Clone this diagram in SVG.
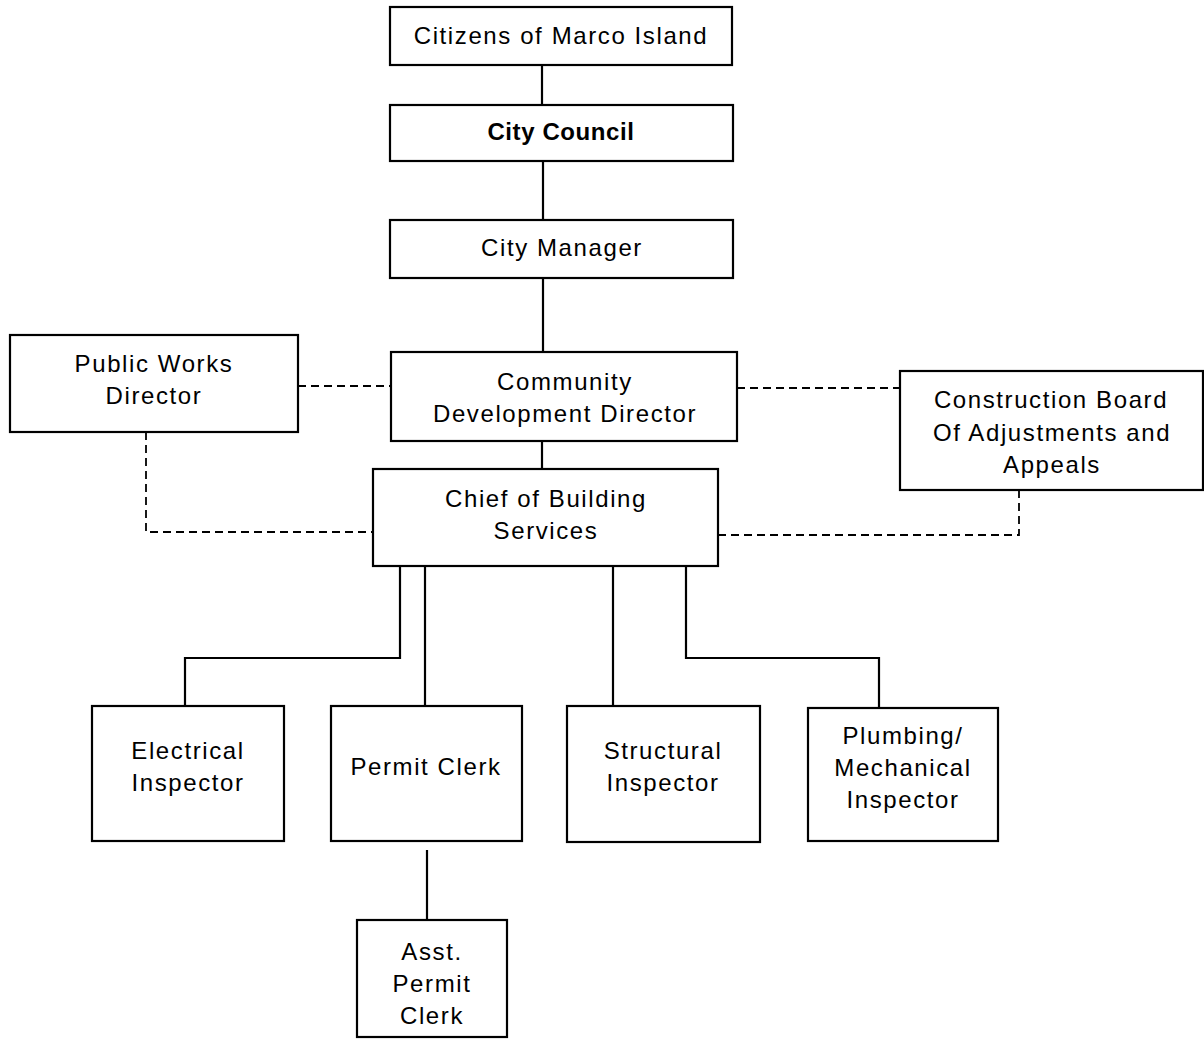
<svg xmlns="http://www.w3.org/2000/svg" width="1204" height="1039" viewBox="0 0 1204 1039">
  <style>
    .box { fill: #ffffff; stroke: #000000; stroke-width: 2.2; }
    .lbl { font-family: "Liberation Sans", Arial, sans-serif; font-size: 24px; letter-spacing: 1.6px; fill: #000000; text-anchor: middle; }
    .bold { font-weight: bold; letter-spacing: 0.6px; }
    .solid { fill: none; stroke: #000000; stroke-width: 2.2; }
    .dash { fill: none; stroke: #000000; stroke-width: 1.8; stroke-dasharray: 8 5; }
  </style>
  <rect width="1204" height="1039" fill="#ffffff"/>

  <!-- reporting lines -->
  <g id="connectors">
    <line class="solid" x1="542" y1="65" x2="542" y2="105"/>
    <line class="solid" x1="543" y1="161" x2="543" y2="220"/>
    <line class="solid" x1="543" y1="278" x2="543" y2="352"/>
    <line class="solid" x1="542" y1="441" x2="542" y2="469"/>
    <polyline class="solid" points="400,566 400,658 185,658 185,706"/>
    <line class="solid" x1="425" y1="566" x2="425" y2="706"/>
    <line class="solid" x1="613" y1="566" x2="613" y2="706"/>
    <polyline class="solid" points="686,566 686,658 879,658 879,707"/>
    <line class="solid" x1="427" y1="850" x2="427" y2="920"/>
    <!-- advisory / coordination links -->
    <line class="dash" x1="298" y1="386" x2="391" y2="386"/>
    <line class="dash" x1="737" y1="388" x2="900" y2="388"/>
    <polyline class="dash" points="146,432 146,532 373,532"/>
    <polyline class="dash" points="718,535 1019,535 1019,490"/>
  </g>

  <g id="citizens">
    <rect class="box" x="390" y="7" width="342" height="58"/>
    <text class="lbl" x="561" y="44">Citizens of Marco Island</text>
  </g>
  <g id="city-council">
    <rect class="box" x="390" y="105" width="343" height="56"/>
    <text class="lbl bold" x="561" y="140">City Council</text>
  </g>
  <g id="city-manager">
    <rect class="box" x="390" y="220" width="343" height="58"/>
    <text class="lbl" x="562" y="256">City Manager</text>
  </g>
  <g id="public-works">
    <rect class="box" x="10" y="335" width="288" height="97"/>
    <text class="lbl" x="154" y="372">Public Works</text>
    <text class="lbl" x="154" y="404">Director</text>
  </g>
  <g id="community-development">
    <rect class="box" x="391" y="352" width="346" height="89"/>
    <text class="lbl" x="565" y="390">Community</text>
    <text class="lbl" x="565" y="422">Development Director</text>
  </g>
  <g id="construction-board">
    <rect class="box" x="900" y="371" width="303" height="119"/>
    <text class="lbl" x="1051" y="408">Construction Board</text>
    <text class="lbl" x="1052" y="441">Of Adjustments and</text>
    <text class="lbl" x="1052" y="473">Appeals</text>
  </g>
  <g id="chief-building">
    <rect class="box" x="373" y="469" width="345" height="97"/>
    <text class="lbl" x="546" y="507">Chief of Building</text>
    <text class="lbl" x="546" y="539">Services</text>
  </g>
  <g id="electrical">
    <rect class="box" x="92" y="706" width="192" height="135"/>
    <text class="lbl" x="188" y="759">Electrical</text>
    <text class="lbl" x="188" y="791">Inspector</text>
  </g>
  <g id="permit-clerk">
    <rect class="box" x="331" y="706" width="191" height="135"/>
    <text class="lbl" x="426" y="775">Permit Clerk</text>
  </g>
  <g id="structural">
    <rect class="box" x="567" y="706" width="193" height="136"/>
    <text class="lbl" x="663" y="759">Structural</text>
    <text class="lbl" x="663" y="791">Inspector</text>
  </g>
  <g id="plumbing">
    <rect class="box" x="808" y="708" width="190" height="133"/>
    <text class="lbl" x="903" y="744">Plumbing/</text>
    <text class="lbl" x="903" y="776">Mechanical</text>
    <text class="lbl" x="903" y="808">Inspector</text>
  </g>
  <g id="asst-permit-clerk">
    <rect class="box" x="357" y="920" width="150" height="117"/>
    <text class="lbl" x="432" y="960">Asst.</text>
    <text class="lbl" x="432" y="992">Permit</text>
    <text class="lbl" x="432" y="1024">Clerk</text>
  </g>
</svg>
